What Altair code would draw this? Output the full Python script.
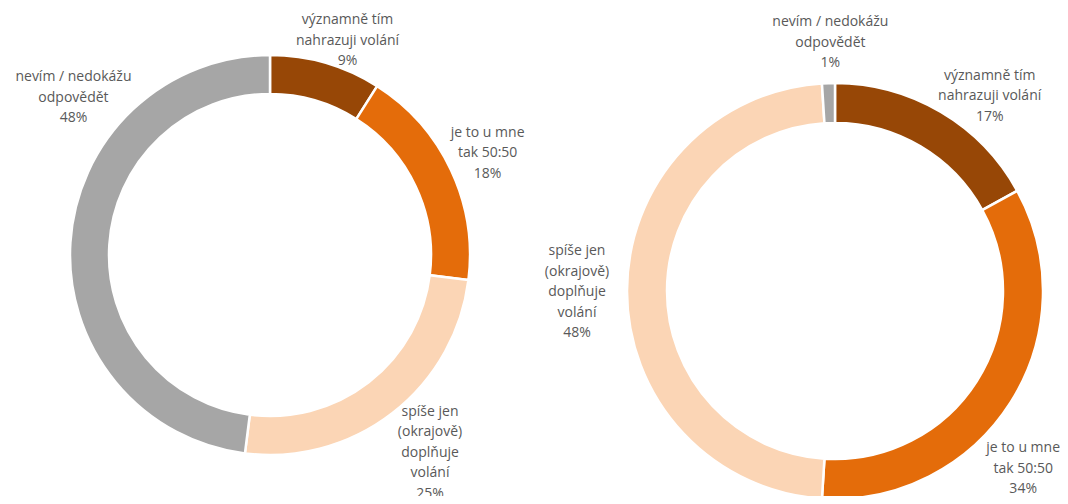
import altair as alt
import pandas as pd

categories = [
    "významně tím nahrazuji volání",
    "je to u mne tak 50:50",
    "spíše jen (okrajově) doplňuje volání",
    "nevím / nedokážu odpovědět",
]
label_lines = [
    "významně tím\nnahrazuji volání",
    "je to u mne\ntak 50:50",
    "spíše jen\n(okrajově)\ndoplňuje\nvolání",
    "nevím / nedokážu\nodpovědět",
]
left_values = [9, 18, 25, 48]
right_values = [17, 34, 48, 1]
colors = ["#974706", "#E46C0A", "#FBD5B5", "#A6A6A6"]

rows = []
for panel, vals in (("A", left_values), ("B", right_values)):
    for i, (cat, lab, v) in enumerate(zip(categories, label_lines, vals)):
        rows.append({"panel": panel, "idx": i, "cat": cat, "value": v,
                     "label": f"{lab}\n{v}%"})
df = pd.DataFrame(rows)

theta_scale = alt.Scale(domain=[0, 100])
color_scale = alt.Scale(domain=categories, range=colors)

# panel geometry (style)
geom = {
    "A": dict(cx=262, cy=247, outer=200, inner=161, lr=235,
              offsets=[(12, -9), (5, -22), (16, -29), (38, -163)]),
    "B": dict(cx=827, cy=283, outer=208, inner=168, lr=243,
              offsets=[(31, -6), (-17, 27), (-15, -40), (3, -26)]),
}

layers = []
for panel, g in geom.items():
    arc = (
        alt.Chart(df)
        .transform_filter(alt.datum.panel == panel)
        .mark_arc(outerRadius=g["outer"], innerRadius=g["inner"],
                  stroke="white", strokeWidth=2.5)
        .encode(
            theta=alt.Theta("value:Q", stack=True, scale=theta_scale),
            color=alt.Color("cat:N", scale=color_scale, legend=None),
            order=alt.Order("idx:Q"),
            x=alt.value(g["cx"]),
            y=alt.value(g["cy"]),
        )
    )
    layers.append(arc)
    for i, (dx, dy) in enumerate(g["offsets"]):
        txt = (
            alt.Chart(df)
            .transform_filter(alt.datum.panel == panel)
            .transform_window(cum="sum(value)", sort=[alt.SortField("idx")],
                              frame=[None, 0])
            .transform_calculate(mid="datum.cum - datum.value / 2")
            .transform_filter(alt.datum.idx == i)
            .mark_text(font="Open Sans", fontSize=14, color="#595959",
                       lineBreak="\n", lineHeight=20.5, dx=dx, dy=dy,
                       align="center", baseline="middle")
            .encode(
                theta=alt.Theta("mid:Q", scale=theta_scale),
                radius=alt.value(g["lr"]),
                text="label:N",
                x=alt.value(g["cx"]),
                y=alt.value(g["cy"]),
            )
        )
        layers.append(txt)

chart = (
    alt.layer(*layers)
    .properties(width=1052, height=488, padding=0,
                autosize=alt.AutoSizeParams(type="none"))
    .configure_view(stroke=None)
)

chart.save("out.html", embed_options={"renderer": "svg", "actions": False})
